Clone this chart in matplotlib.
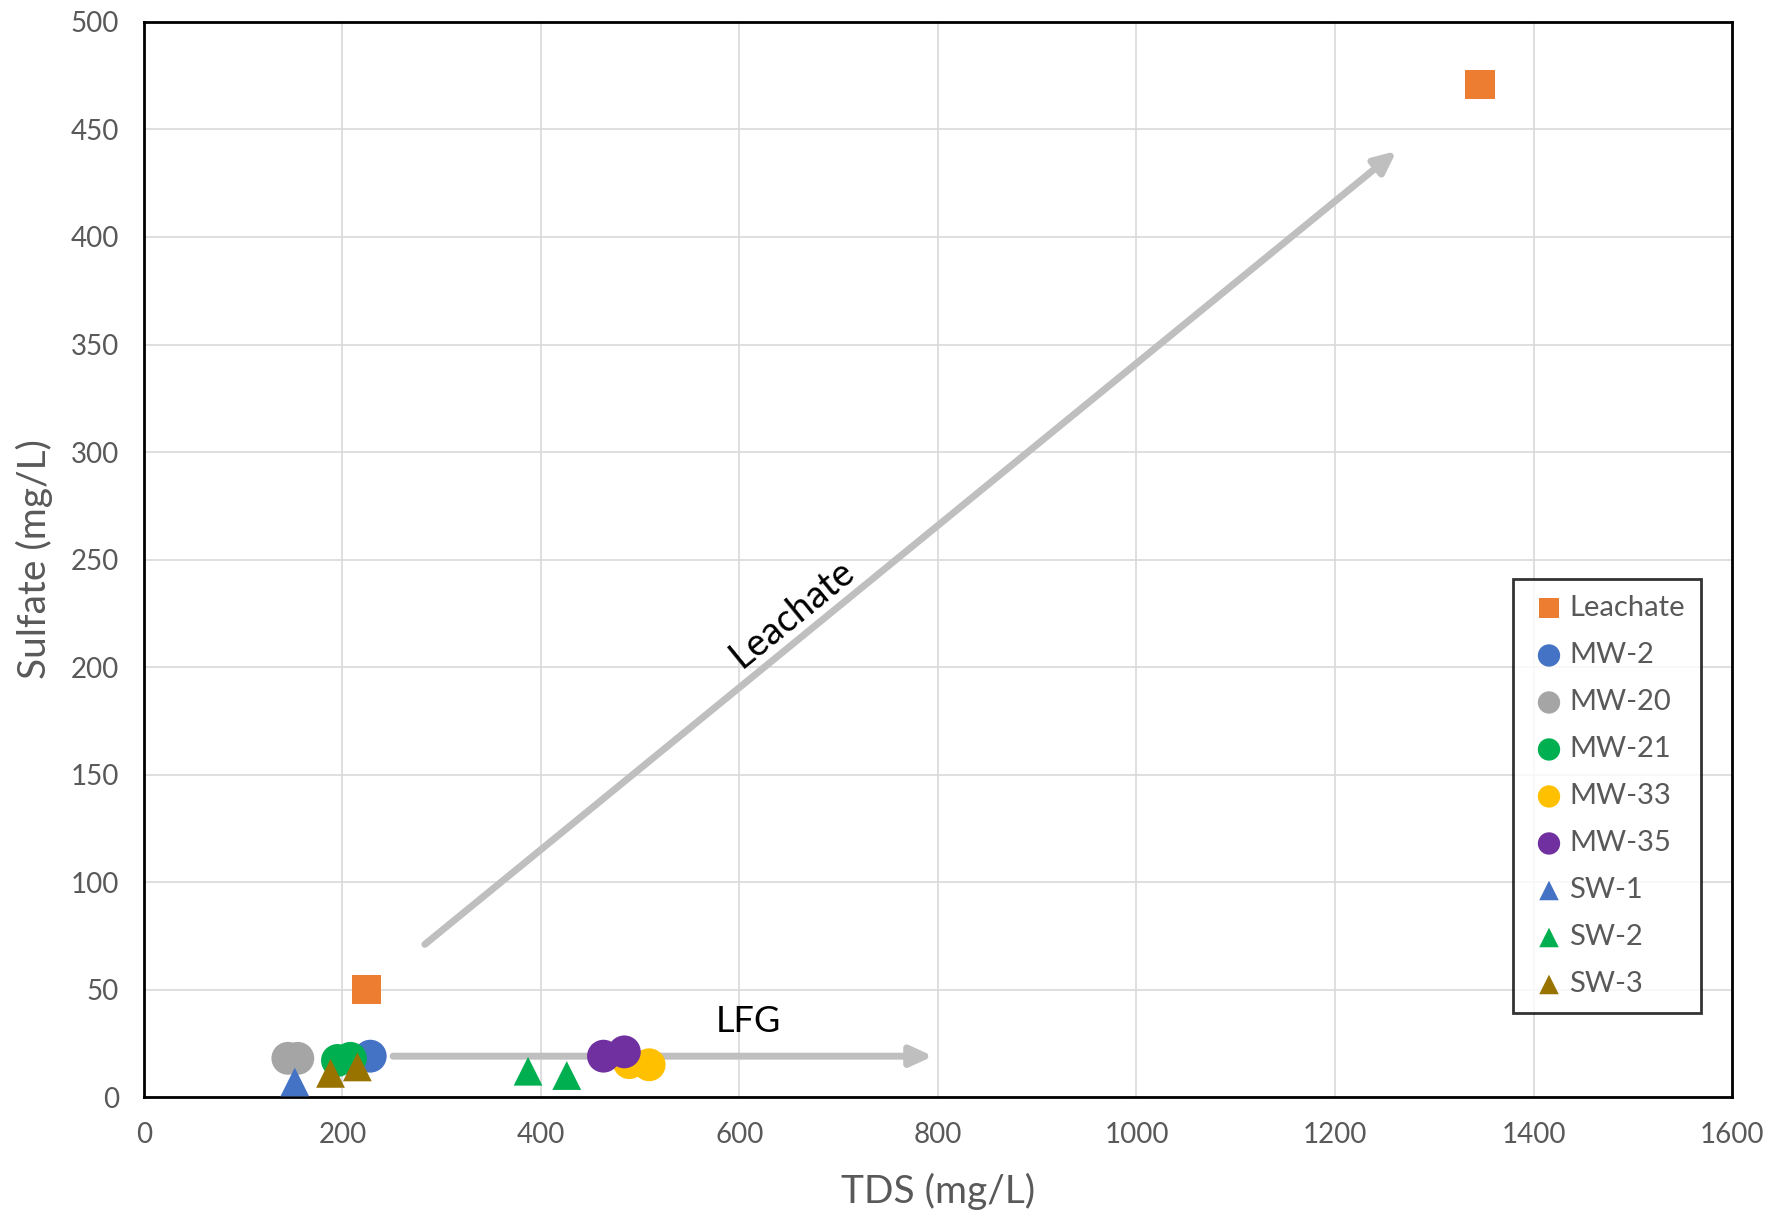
import matplotlib
matplotlib.use("Agg")
import matplotlib.pyplot as plt

plt.rcParams['font.family'] = ['Lato', 'DejaVu Sans']

# ---- data ----
series_names = ["Leachate", "MW-2", "MW-20", "MW-21", "MW-33", "MW-35", "SW-1", "SW-2", "SW-3"]
leachate_tds = [224, 1346]
leachate_so4 = [50, 471]
mw2_tds = [228]
mw2_so4 = [19]
mw20_tds = [145, 155]
mw20_so4 = [18, 18]
mw21_tds = [195, 208]
mw21_so4 = [17, 18]
mw33_tds = [489, 509]
mw33_so4 = [16, 15]
mw35_tds = [463, 484]
mw35_so4 = [19, 21]
sw1_tds = [152]
sw1_so4 = [7]
sw2_tds = [387, 426]
sw2_so4 = [12, 10]
sw3_tds = [188, 215]
sw3_so4 = [11, 14]

x_ticks = [0, 200, 400, 600, 800, 1000, 1200, 1400, 1600]
y_ticks = [0, 50, 100, 150, 200, 250, 300, 350, 400, 450, 500]

series = [
    (leachate_tds, leachate_so4, 's', '#ED7D31'),
    (mw2_tds, mw2_so4, 'o', '#4472C4'),
    (mw20_tds, mw20_so4, 'o', '#A5A5A5'),
    (mw21_tds, mw21_so4, 'o', '#00B050'),
    (mw33_tds, mw33_so4, 'o', '#FFC000'),
    (mw35_tds, mw35_so4, 'o', '#7030A0'),
    (sw1_tds, sw1_so4, '^', '#4472C4'),
    (sw2_tds, sw2_so4, '^', '#00B050'),
    (sw3_tds, sw3_so4, '^', '#997300'),
]
sizes = {'s': 450, 'o': 560, '^': 430}

fig = plt.figure(figsize=(17.88, 12.15), dpi=100)
ax = fig.add_axes([0.0805, 0.0971, 0.9687 - 0.0805, 0.9819 - 0.0971])

grid_c = '#D9D9D9'
ax.set_axisbelow(True)
ax.grid(True, color=grid_c, linewidth=1.2)

for name, (xs, ys, m, c) in zip(series_names, series):
    ax.scatter(xs, ys, marker=m, s=sizes[m], color=c, edgecolors='none',
               label=name, zorder=3)

# arrows
arrow_c = '#BFBFBF'
ax.annotate('', xy=(1262, 440), xytext=(283, 71),
            arrowprops=dict(arrowstyle='-|>,head_length=1.3,head_width=0.6',
                            color=arrow_c, lw=5, shrinkA=0, shrinkB=0), zorder=2)
ax.annotate('', xy=(795, 19), xytext=(251, 19),
            arrowprops=dict(arrowstyle='-|>,head_length=1.3,head_width=0.6',
                            color=arrow_c, lw=5, shrinkA=0, shrinkB=0), zorder=2)
ax.text(653, 225, 'Leachate', rotation=39.2, rotation_mode='anchor',
        ha='center', va='center', fontsize=27, color='black')
ax.text(609, 35, 'LFG', ha='center', va='center', fontsize=26, color='black')

ax.set_xlim(0, 1600)
ax.set_ylim(0, 500)
ax.set_xticks(x_ticks)
ax.set_yticks(y_ticks)
ax.tick_params(axis='both', length=0, labelsize=20, labelcolor='#595959')
ax.tick_params(axis='x', pad=18)
ax.tick_params(axis='y', pad=18)
for s in ax.spines.values():
    s.set_color('black')
    s.set_linewidth(2)

ax.set_xlabel('TDS (mg/L)', fontsize=28, color='#595959', labelpad=18)
ax.set_ylabel('Sulfate (mg/L)', fontsize=28, color='#595959', labelpad=13)

leg = ax.legend(loc='lower right', bbox_to_anchor=(0.9805, 0.078), borderaxespad=0,
                fontsize=21, frameon=True, fancybox=False, edgecolor='black',
                handletextpad=0.0, labelspacing=0.72, borderpad=0.55,
                handlelength=1.4, markerscale=0.68, labelcolor='#595959')
leg.get_frame().set_linewidth(2)

fig.savefig('out.png', dpi=100, facecolor='white')
